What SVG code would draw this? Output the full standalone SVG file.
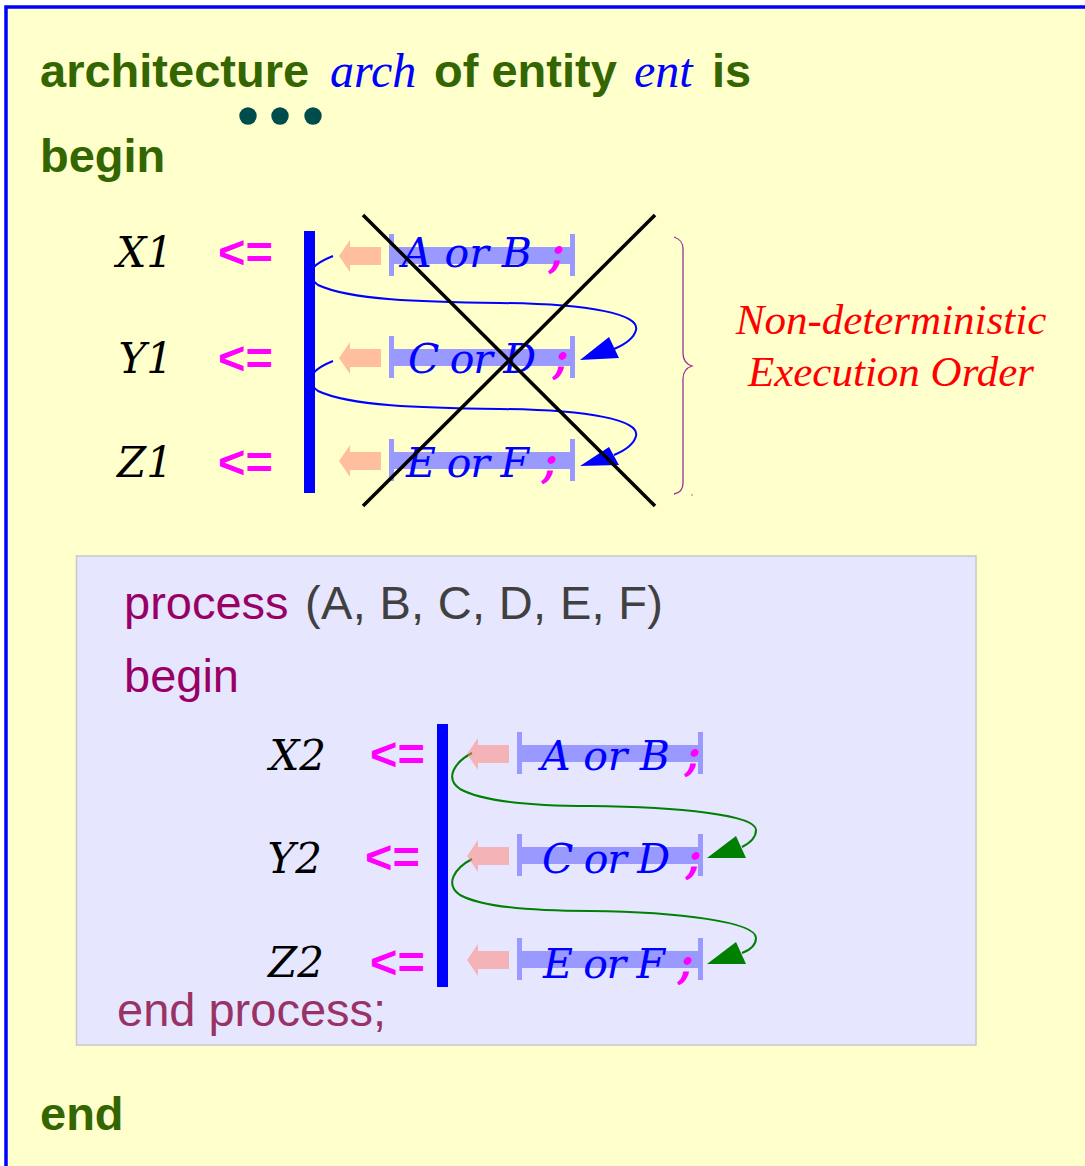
<svg xmlns="http://www.w3.org/2000/svg" width="1085" height="1166" viewBox="0 0 1085 1166">
<style>
.kw{font-family:"Liberation Sans",Arial,sans-serif;font-weight:bold;font-size:47px;fill:#336600}
.it{font-family:"Liberation Serif","Times New Roman",serif;font-style:italic;fill:#0000ff}
.lbl{font-family:"DejaVu Serif",serif;font-style:italic;font-size:42px;fill:#000000}
.op{font-family:"Liberation Sans",Arial,sans-serif;font-weight:bold;font-size:47px;fill:#ff00ff}
.expr{font-family:"DejaVu Serif",serif;font-style:italic;font-size:41px;fill:#0000ff}
.semi{font-family:"DejaVu Serif",serif;font-style:italic;font-weight:bold;font-size:42px;fill:#ff00ff}
.proc{font-family:"Liberation Sans",Arial,sans-serif;font-size:47px}
.bar{fill:#9999ff}
.pink{fill:#ff8070;fill-opacity:0.5}
.vbar{fill:#0000ff}
.bcurve{fill:none;stroke:#0000ff;stroke-width:2}
.gcurve{fill:none;stroke:#008000;stroke-width:2}
.cross{stroke:#000000;stroke-width:3.5}
</style>
<defs>
<g id="pinkArrowTop"><path d="M0,0 L11,-16 L11,-9 L42,-9 L42,9 L11,9 L11,16 Z"/></g>
<g id="exprBar"><rect x="0" y="-22" width="5" height="42"/><rect x="0" y="-9" width="186" height="17"/><rect x="181" y="-22" width="5" height="42"/></g>
</defs>
<rect x="6" y="7" width="1100" height="1200" fill="#ffffcc" stroke="#0000ff" stroke-width="3.5"/>

<g id="header">
<text y="87"><tspan class="kw" x="40">architecture</tspan><tspan class="it" x="330" font-size="48">arch</tspan><tspan class="kw" x="434">of entity</tspan><tspan class="it" x="634" font-size="48">ent</tspan><tspan class="kw" x="712">is</tspan></text>
<g fill="#004c4c"><circle cx="248" cy="116" r="8.7"/><circle cx="280" cy="116" r="8.7"/><circle cx="313" cy="116" r="8.7"/></g>
<text class="kw" x="40" y="172">begin</text>
</g>

<g id="concurrent">
<g id="connectors-top">
<path class="bcurve" d="M333,256 C318,262 300,272 318,285 C350,300 420,302 500,303 C590,304 640,314 636,330 C634,338 626,344 614,349"/>
<polygon fill="#0000ff" points="580,360 609,337 619,358"/>
<path class="bcurve" d="M333,361 C318,367 300,378 318,391 C350,406 420,408 500,409 C590,410 640,420 636,436 C634,444 626,450 614,455"/>
<polygon fill="#0000ff" points="580,466 609,447 619,465"/>
</g>
<rect class="vbar" x="304" y="231" width="11" height="262"/>
<g id="rowX1">
<text class="lbl" x="173" y="267" text-anchor="end">X1</text>
<text class="op" x="218" y="268">&lt;=</text>
<use href="#pinkArrowTop" class="pink" x="339" y="256"/>
<use href="#exprBar" class="bar" x="389" y="256"/>
<text class="expr" x="402" y="267" textLength="130">A or B</text>
<text class="semi" x="549" y="267">;</text>
</g>
<g id="rowY1">
<text class="lbl" x="173" y="373" text-anchor="end">Y1</text>
<text class="op" x="218" y="374">&lt;=</text>
<use href="#pinkArrowTop" class="pink" x="339" y="358"/>
<use href="#exprBar" class="bar" x="389" y="358"/>
<text class="expr" x="408" y="373" textLength="128">C or D</text>
<text class="semi" x="553" y="373">;</text>
</g>
<g id="rowZ1">
<text class="lbl" x="173" y="477" text-anchor="end">Z1</text>
<text class="op" x="218" y="478">&lt;=</text>
<use href="#pinkArrowTop" class="pink" x="339" y="461"/>
<use href="#exprBar" class="bar" x="389" y="461"/>
<text class="expr" x="406" y="477" textLength="123">E or F</text>
<text class="semi" x="542" y="477">;</text>
</g>
<g id="cross">
<line class="cross" x1="363" y1="215" x2="655" y2="506"/>
<line class="cross" x1="655" y1="215" x2="363" y2="506"/>
</g>
</g>

<g id="brace">
<path d="M674,237 C680,239 683,242 683,249 L683,353 C683,360 686,364 692,366 C686,368 683,372 683,379 L683,483 C683,490 680,493 674,494" fill="none" stroke="#993399" stroke-width="1.3"/>
<circle cx="692" cy="495" r="0.7" fill="#993399"/>
</g>
<g id="note">
<text class="it" x="891" y="334" font-size="43" style="fill:#ff0000" text-anchor="middle">Non-deterministic</text>
<text class="it" x="891" y="386" font-size="43" style="fill:#ff0000" text-anchor="middle">Execution Order</text>
</g>

<g id="process">
<rect x="76.5" y="556" width="899.5" height="489" fill="#e6e6ff" stroke="#c8c8c8" stroke-width="1.5"/>
<text class="proc" x="124" y="619" fill="#990066">process</text>
<text class="proc" x="305" y="619" fill="#404040" textLength="358">(A, B, C, D, E, F)</text>
<text class="proc" x="124" y="692" fill="#990066">begin</text>
<g id="connectors-bottom">
<path class="gcurve" d="M472,753 C455,762 444,778 460,789 C480,800 520,806 590,806 C680,807 756,815 756,830 C756,838 750,843 742,847"/>
<polygon fill="#008000" points="707,858 736,836 746,858"/>
<path class="gcurve" d="M472,859 C455,868 444,884 460,895 C480,906 520,911 590,911 C680,912 756,922 756,938 C756,945 750,950 742,953"/>
<polygon fill="#008000" points="707,964 736,942 746,964"/>
</g>
<rect class="vbar" x="437" y="724" width="11" height="263"/>
<g id="rowX2">
<text class="lbl" x="326" y="770" text-anchor="end">X2</text>
<text class="op" x="370" y="770">&lt;=</text>
<use href="#pinkArrowTop" class="pink" x="467" y="754"/>
<use href="#exprBar" class="bar" x="517" y="754"/>
<text class="expr" x="541" y="770" textLength="129">A or B</text>
<text class="semi" x="685" y="770">;</text>
</g>
<g id="rowY2">
<text class="lbl" x="322" y="873" text-anchor="end">Y2</text>
<text class="op" x="365" y="873">&lt;=</text>
<use href="#pinkArrowTop" class="pink" x="467" y="856"/>
<use href="#exprBar" class="bar" x="517" y="856"/>
<text class="expr" x="542" y="873" textLength="128">C or D</text>
<text class="semi" x="686" y="873">;</text>
</g>
<g id="rowZ2">
<text class="lbl" x="324" y="977" text-anchor="end">Z2</text>
<text class="op" x="370" y="978">&lt;=</text>
<use href="#pinkArrowTop" class="pink" x="467" y="960"/>
<use href="#exprBar" class="bar" x="517" y="960"/>
<text class="expr" x="543" y="978" textLength="122">E or F</text>
<text class="semi" x="678" y="978">;</text>
</g>
<text class="proc" x="117" y="1026" fill="#993366">end process;</text>
</g>

<text class="kw" x="40" y="1130">end</text>
</svg>
